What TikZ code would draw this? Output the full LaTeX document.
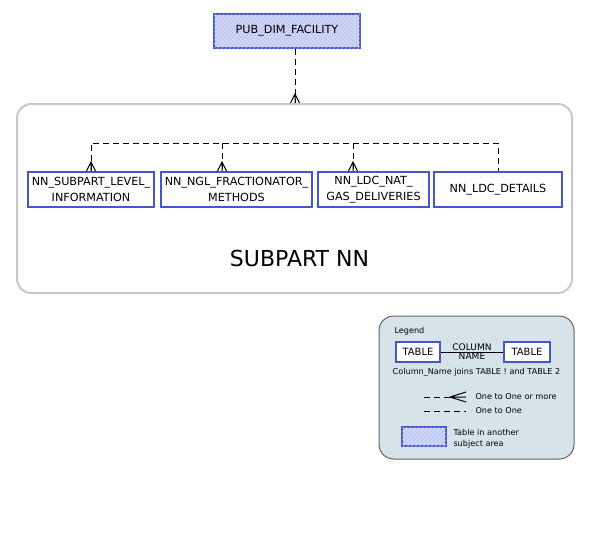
\documentclass[tikz,border=0pt]{standalone}
\usepackage{fontspec}
\setmainfont{DejaVu Sans}
\usetikzlibrary{patterns}

\definecolor{tblblue}{RGB}{70,86,204}
\definecolor{hatchfill}{RGB}{208,213,245}
\definecolor{hatchline}{RGB}{182,190,238}
\definecolor{areagrey}{RGB}{200,200,200}
\definecolor{legendfill}{RGB}{214,228,234}
\definecolor{legendline}{RGB}{100,100,100}

\tikzset{every picture/.style={line width=0.75pt}}
\tikzset{
  tbl/.style={draw=tblblue, line width=1.5, fill=white, inner sep=0pt, align=center,
    font=\fontsize{8.4}{11.8}\selectfont, minimum height=26.25pt},
  othertbl/.style={tbl, fill=hatchfill, postaction={pattern=north east lines, pattern color=hatchline}},
  rel/.style={dash pattern={on 4.5pt off 3pt}},
  crowfoot/.pic={\draw[solid] (-4.5,0) -- (0,9) -- (4.5,0) (0,9) -- (0,0);},
  smalltext/.style={inner sep=0.75pt, font=\fontsize{6.1}{8}\selectfont}
}

\begin{document}
\begin{tikzpicture}[x=0.75pt,y=0.75pt,yscale=-1,xscale=1]
\useasboundingbox (0,0) rectangle (591,550);

%Subject area
\node (subpartnn) [draw=areagrey, line width=1.5, rounded corners=10.5pt, minimum width=416.25pt, minimum height=141.75pt] at (294.5,198.5) {};
\node (subparttitle) [inner sep=0pt, font=\fontsize{16.5}{20}\selectfont] at (299.5,258) {SUBPART NN};

%Tables
\node (pub) [othertbl, minimum width=109.5pt, minimum height=25.5pt] at (287,31) {PUB\_DIM\_FACILITY};
\node (levelinfo) [tbl, minimum width=94.5pt] at (91,189.5) {NN\_SUBPART\_LEVEL\_\\INFORMATION};
\node (fractionator) [tbl, minimum width=113.25pt] at (236.5,189.5) {NN\_NGL\_FRACTIONATOR\_\\METHODS};
\node (natgas) [tbl, minimum width=83.25pt] at (373.5,189.5) {NN\_LDC\_NAT\_\\GAS\_DELIVERIES};
\node (ldcdetails) [tbl, minimum width=96pt] at (498,189.5) {NN\_LDC\_DETAILS};

%Relationships
\coordinate (drop0) at (295,0);
\coordinate (busL) at (91,143);
\coordinate (bus2) at (222,143);
\coordinate (bus3) at (353,143);
\coordinate (busR) at (498,143);
\draw [rel] (drop0 |- pub.south) -- (drop0 |- subpartnn.north);
\pic at (drop0 |- subpartnn.north) {crowfoot};
\draw [rel] (levelinfo.north) -- (busL) -- (busR) -- (ldcdetails.north);
\draw [rel] (bus2) -- (bus2 |- fractionator.north);
\draw [rel] (bus3) -- (bus3 |- natgas.north);
\pic at (levelinfo.north) {crowfoot};
\pic at (bus2 |- fractionator.north) {crowfoot};
\pic at (bus3 |- natgas.north) {crowfoot};

%Legend
\node (legendbox) [draw=legendline, fill=legendfill, rounded corners=11pt, minimum width=146.25pt, minimum height=107.25pt] at (476.5,387.5) {};
\node (legendtitle) [smalltext, anchor=west] at (393,331) {Legend};
\node (tableA) [tbl, line width=1.5, minimum width=33pt, minimum height=15pt, font=\fontsize{7.5}{9}\selectfont] at (418,352) {TABLE};
\node (tableB) [tbl, line width=1.5, minimum width=34.5pt, minimum height=15pt, font=\fontsize{7.5}{9}\selectfont] at (527,352) {TABLE};
\draw (tableA) -- node (colname) [smalltext, above, inner sep=0.5pt, font=\fontsize{6.8}{8}\selectfont] {COLUMN} node (colname2) [smalltext, below, inner sep=0.5pt, font=\fontsize{6.8}{8}\selectfont] {NAME} (tableB);
\node (joins) [smalltext] at (476.5,372) {Column\_Name joins TABLE ! and TABLE 2};

\coordinate (manyA) at (424,397);
\coordinate (manyB) at (450,397);
\coordinate (oneA) at (424,411);
\coordinate (oneB) at (466,411);
\draw [rel] (manyA) -- (manyB);
\draw (manyB) -- ++(16,-5) (manyB) -- ++(16,0) (manyB) -- ++(16,5);
\node (manytext) [smalltext, anchor=west] at (474,397) {One to One or more};
\draw [rel] (oneA) -- (oneB);
\node (onetext) [smalltext, anchor=west] at (474,411) {One to One};

\node (othersample) [othertbl, line width=1.5, minimum width=33pt, minimum height=14.25pt] at (424,436.5) {};
\node (othertext) [smalltext, anchor=west, align=left] at (452,439) {Table in another\\subject area};

\end{tikzpicture}
\end{document}
